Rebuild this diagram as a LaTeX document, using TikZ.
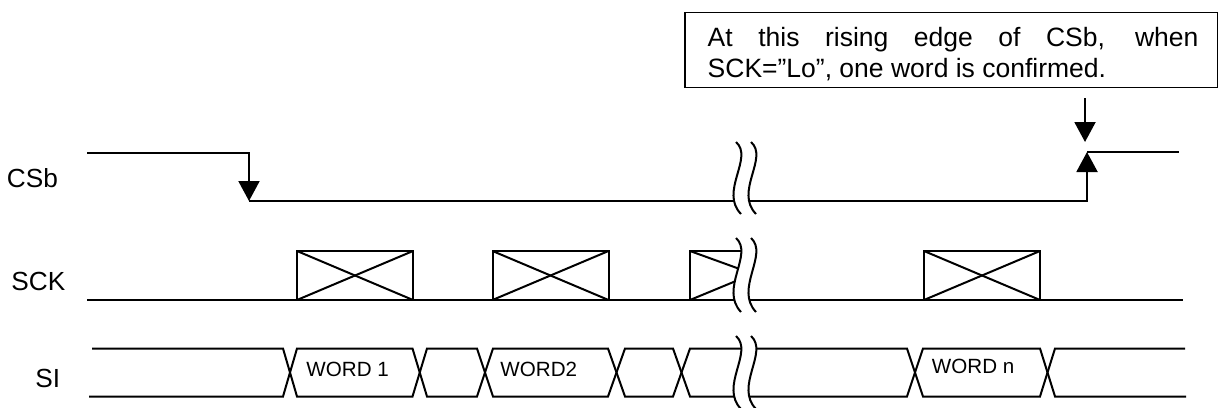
\documentclass[tikz,border=0pt]{standalone}
\usepackage{fontspec}
\setmainfont{Liberation Sans}
\usetikzlibrary{arrows.meta}
\newcommand\drawbreak[2]{%
  \pgfmathsetmacro\brkA{#1}\pgfmathsetmacro\brkB{#2}%
  \pgfmathsetmacro\brkC{#1+0.22*(#2-#1)}\pgfmathsetmacro\brkD{#1+0.69*(#2-#1)}%
  \fill[white] (736,\brkA) .. controls (754,\brkC) and (719,\brkD) .. (741,\brkB)
     -- (756,\brkB) .. controls (734,\brkD) and (769,\brkC) .. (751,\brkA) -- cycle;
  \draw[sigline] (736,\brkA) .. controls (754,\brkC) and (719,\brkD) .. (741,\brkB);
  \draw[sigline] (751,\brkA) .. controls (769,\brkC) and (734,\brkD) .. (756,\brkB);
}
\begin{document}
\begin{tikzpicture}[x=0.5pt,y=-0.5pt,
  sigline/.style={line width=1pt},
  tiparrow/.style={sigline,-{Triangle[length=10pt,width=10.5pt]}},
  clkbox/.style={draw,line width=1pt,inner sep=0pt,outer sep=0pt,minimum width=58pt,minimum height=24.5pt,anchor=south west},
  siglabel/.style={inner sep=0pt,anchor=base west,font=\fontsize{13.1}{15}\selectfont},
  wordlabel/.style={inner sep=0pt,anchor=base west,font=\fontsize{10.3}{12}\selectfont},
  notebox/.style={draw,line width=0.75pt,inner sep=0pt,outer sep=0pt,anchor=north west}]
\useasboundingbox (0,0) rectangle (1219,407);

% labels
\node[siglabel] (lcsb) at (6.5,187.3) {CSb};
\node[siglabel] (lsck) at (11,290) {SCK};
\node[siglabel] (lsi) at (35,387.7) {SI};

% CSb
\draw[tiparrow] (87,153) -- (249,153) -- (249,201);
\draw[tiparrow] (249,201) -- (1087,201) -- (1087,152);
\draw[sigline] (1087,152) -- (1179,152);

% SCK
\draw[sigline] (87,300) -- (1183,300);
\foreach \nm/\xx in {b1/297,b2/492.5,b4/924}{
  \node[clkbox] (\nm) at (\xx,300) {};
  \draw[sigline] (\nm.north west) -- (\nm.south east);
  \draw[sigline] (\nm.south west) -- (\nm.north east);
}
\draw[sigline] (690,300) -- (690,251) -- (748,251);
\draw[sigline] (690,251) -- (748,272);
\draw[sigline] (690,300) -- (748,276);

% SI
\def\su{348.5}\def\sl{396.5}
\draw[sigline] (92,\su) -- (283,\su) -- (297,\sl) -- (412.5,\sl) -- (427,\su) -- (477,\su) -- (493,\sl) -- (608,\sl) -- (625,\su) -- (673,\su) -- (690,\sl) -- (907,\sl) -- (923,\su) -- (1040,\su) -- (1055,\sl) -- (1186,\sl);
\draw[sigline] (89,\sl) -- (283,\sl) -- (297,\su) -- (412.5,\su) -- (427,\sl) -- (477,\sl) -- (493,\su) -- (608,\su) -- (625,\sl) -- (673,\sl) -- (690,\su) -- (907,\su) -- (923,\sl) -- (1040,\sl) -- (1055,\su) -- (1185,\su);
\node[wordlabel] (w1) at (306,376) {WORD 1};
\node[wordlabel] (w2) at (500,376.5) {WORD2};
\node[wordlabel] (wn) at (931.5,373) {WORD n};

% breaks
\drawbreak{142}{214}
\drawbreak{238}{312}
\drawbreak{336}{409}

% note
\node[notebox,minimum width=266.25pt,minimum height=37.7pt] (note) at (685,12.3) {};
\node[inner sep=0pt,anchor=base west] (notetext) at (707.3,46.7)
  {\parbox[t]{245.4pt}{\fontsize{13.25}{15.35}\selectfont At this rising edge of CSb, when\linebreak SCK=”Lo”, one word is confirmed.}};
\coordinate (arrtop) at (1085,98);
\coordinate (arrtip) at (1085,142);
\draw[tiparrow] (arrtop) -- (arrtip);
\end{tikzpicture}
\end{document}
